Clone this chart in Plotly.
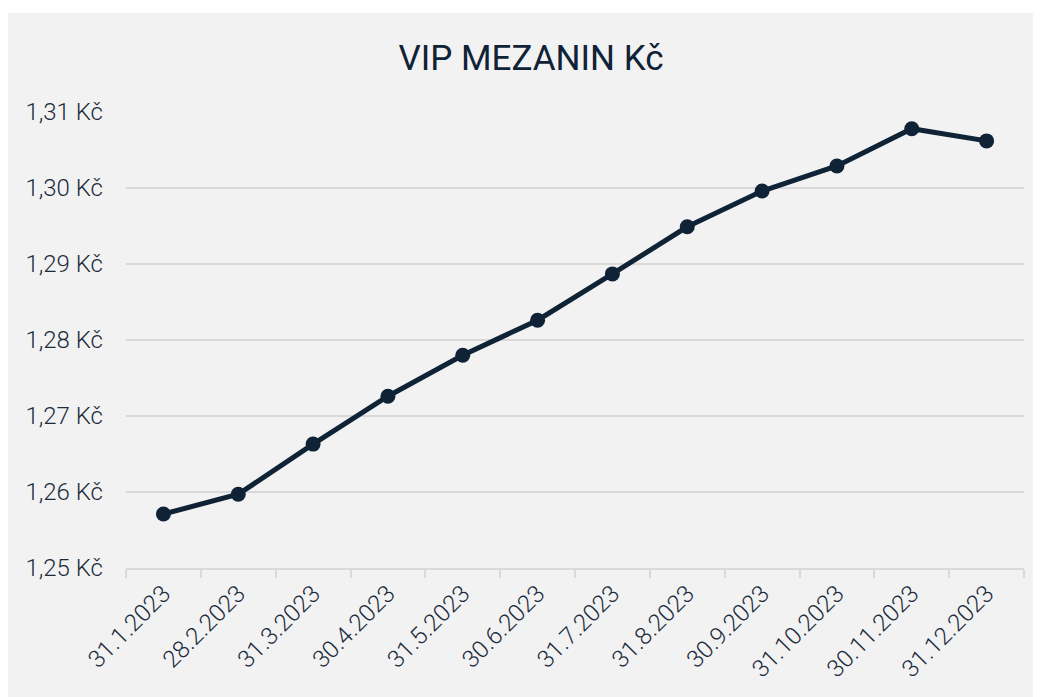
import plotly.graph_objects as go

dates = ["31.1.2023", "28.2.2023", "31.3.2023", "30.4.2023", "31.5.2023", "30.6.2023",
         "31.7.2023", "31.8.2023", "30.9.2023", "31.10.2023", "30.11.2023", "31.12.2023"]
values = [1.2571, 1.2597, 1.2663, 1.2726, 1.2780, 1.2826,
          1.2887, 1.2949, 1.2996, 1.3029, 1.3078, 1.3062]
tick_vals = [1.25, 1.26, 1.27, 1.28, 1.29, 1.30, 1.31]
tick_text = ["1,25 Kč", "1,26 Kč", "1,27 Kč", "1,28 Kč", "1,29 Kč", "1,30 Kč", "1,31 Kč"]

navy = "#0f2236"
text_col = "#1b2b3c"
bg = "#f2f2f2"

fig = go.Figure()
fig.add_trace(go.Scatter(
    x=dates, y=values, mode="lines+markers",
    line=dict(color=navy, width=5),
    marker=dict(color=navy, size=15),
    hoverinfo="x+y",
))

W, H = 1041, 697
L, R, T, B = 118, 25, 104, 137
pw = W - L - R
ph = H - T - B

tf = dict(family="Roboto", size=24, color=text_col, weight=300)

fig.update_layout(
    width=W, height=H,
    margin=dict(l=L, r=R, t=T, b=B),
    paper_bgcolor=bg, plot_bgcolor=bg,
    showlegend=False,
    font=tf,
    title=dict(text="VIP MEZANIN Kč", x=523 / W, xanchor="center",
               y=1 - 50 / H, yanchor="middle",
               font=dict(family="Roboto", size=35, color=navy, weight=400)),
    xaxis=dict(
        type="category", tickangle=-45,
        showgrid=False, showline=True, linecolor="#d9d9d9", linewidth=2,
        ticks="outside", ticklen=8, tickcolor="#d9d9d9", tickwidth=2,
        tickson="boundaries",
        tickfont=tf,
        range=[-0.5, 11.5],
    ),
    yaxis=dict(
        range=[1.25, 1.31], tickvals=tick_vals, ticktext=tick_text,
        showgrid=True, gridcolor="#d9d9d9", gridwidth=2,
        zeroline=False, showline=False, ticks="", ticklabelstandoff=22,
        tickfont=tf,
    ),
    shapes=[
        # thin white strip along the top edge, outside the grey card
        dict(type="rect", xref="paper", yref="paper",
             x0=-L / pw - 0.02, x1=1 + (R + 5) / pw,
             y0=1 + (T - 5) / ph, y1=1 + T / ph + 0.02,
             fillcolor="white", line_width=0, layer="below"),
    ],
)

fig.write_html("out.html")
